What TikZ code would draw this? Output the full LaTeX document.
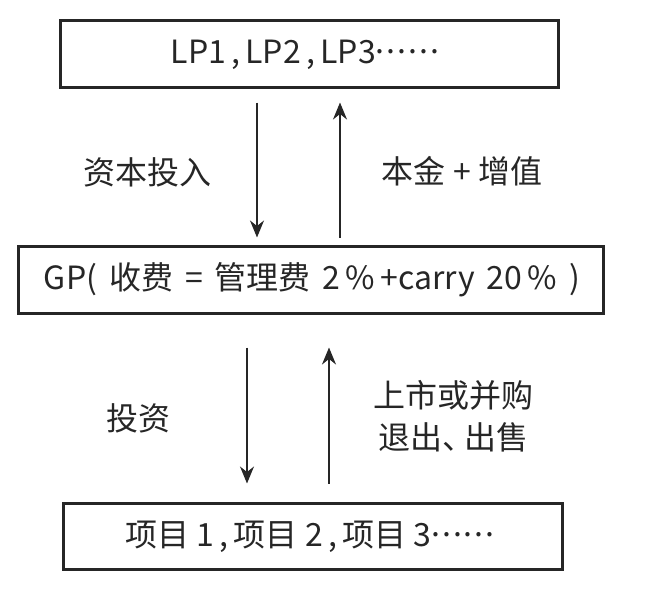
\documentclass[tikz,border=0pt]{standalone}
\usepackage{fontspec}
\setmainfont{Noto Sans CJK SC}
\usetikzlibrary{arrows.meta}
\newcommand{\mydots}{\raisebox{0.32em}{.\kern2pt.\kern2pt.\kern2pt.\kern2pt.\kern2pt.}}
\newcommand{\gsp}{\hspace{12pt}}
\begin{document}
\begin{tikzpicture}[x=1pt,y=-1pt,
  box/.style={draw=black!85, line width=3pt, inner sep=0pt},
  txt/.style={font=\fontsize{32}{38}\selectfont, inner sep=0pt, text=black!85},
  arr/.style={draw=black!85, line width=1.6pt, -{Stealth[length=17pt,width=14pt]}}]
\useasboundingbox (0,0) rectangle (645,608);
\node[box, minimum width=498pt, minimum height=67pt] (top) at (309,53.5) {};
\node[box, minimum width=585pt, minimum height=67pt] (gp) at (310.5,279.5) {};
\node[box, minimum width=499pt, minimum height=66pt] (bot) at (312.5,536) {};
\node[txt] (toptxt) at (305,55) {LP1\,,\,LP2\,,\,LP3\mydots};
\node[txt] (gptxt) at (312,280) {GP(\gsp 收费\gsp=\gsp 管理费\gsp 2\,\%\,+carry\gsp 20\,\%\gsp)};
\node[txt] (bottxt) at (310,537) {项目 1\,,\,项目 2\,,\,项目 3\mydots};
\node[txt] (l1) at (147,172) {资本投入};
\node[txt] (l2) at (462,171) {本金 + 增值};
\node[txt] (l3) at (138,418) {投资};
\node[txt, align=center] (l4) at (453,416) {上市或并购\\[4pt]退出\kern1pt、\kern-11pt出售};
\draw[arr, shorten <=14pt, shorten >=7pt] (top.south -| 257,0) -- (gp.north -| 257,0);
\draw[arr, shorten <=7pt, shorten >=14pt] (gp.north -| 340,0) -- (top.south -| 340,0);
\draw[arr, shorten <=33pt, shorten >=18pt] (gp.south -| 247,0) -- (bot.north -| 247,0);
\draw[arr, shorten <=18pt, shorten >=33pt] (bot.north -| 329,0) -- (gp.south -| 329,0);
\end{tikzpicture}
\end{document}
